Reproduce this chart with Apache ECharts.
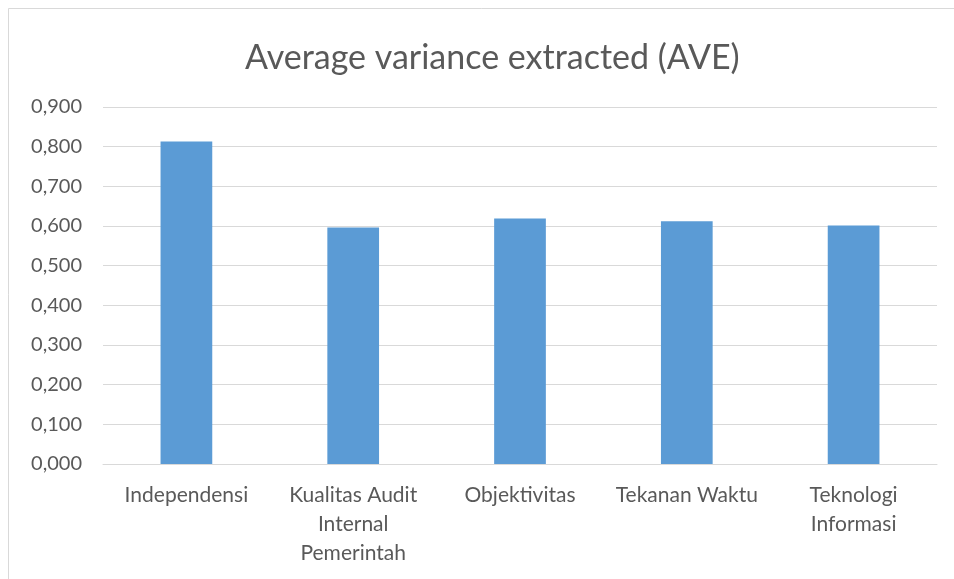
<!DOCTYPE html>
<html>
<head>
<meta charset="utf-8">
<script src="https://cdn.jsdelivr.net/npm/echarts@6/dist/echarts.min.js"></script>
<style>
  html, body { margin: 0; padding: 0; background: #fff; }
  #chart { width: 954px; height: 579px; }
</style>
</head>
<body>
<div id="chart"></div>
<script>
// data
const categories = ['Independensi', 'Kualitas Audit\nInternal\nPemerintah', 'Objektivitas', 'Tekanan Waktu', 'Teknologi\nInformasi']
const aveValues = [0.813, 0.596, 0.619, 0.612, 0.601]

const chart = echarts.init(document.getElementById('chart'))
const fontFamily = 'Lato, "Open Sans", sans-serif'

const option = {
  animation: false,
  backgroundColor: '#fff',
  textStyle: { fontFamily: fontFamily },
  title: {
    text: 'Average variance extracted (AVE)',
    left: 240,
    top: 36,
    textStyle: {
      fontFamily: fontFamily,
      fontSize: 34,
      fontWeight: 'normal',
      color: '#595959'
    }
  },
  // chart frame
  graphic: [
    {
      type: 'rect',
      shape: { x: 8.5, y: 8.5, width: 960, height: 600 },
      style: { fill: 'none', stroke: '#d9d9d9', lineWidth: 1 },
      silent: true
    }
  ],
  grid: {
    left: 103,
    right: 17,
    top: 107,
    bottom: 115,
    containLabel: false
  },
  xAxis: {
    type: 'category',
    data: categories,
    axisTick: { show: false },
    axisLine: { lineStyle: { color: '#d9d9d9', width: 1 } },
    axisLabel: {
      interval: 0,
      margin: 17,
      fontSize: 21,
      lineHeight: 29,
      color: '#595959',
      fontFamily: fontFamily
    }
  },
  yAxis: {
    type: 'value',
    min: 0,
    max: 0.9,
    interval: 0.1,
    axisLine: { show: false },
    axisTick: { show: false },
    splitLine: { lineStyle: { color: '#d9d9d9', width: 1 } },
    axisLabel: {
      margin: 21,
      fontSize: 20,
      color: '#595959',
      fontFamily: fontFamily,
      formatter: v => v.toFixed(3).replace('.', ',')
    }
  },
  series: [
    {
      name: 'AVE',
      type: 'bar',
      data: aveValues,
      barWidth: '31%',
      itemStyle: { color: '#5b9bd5' }
    }
  ]
}

chart.setOption(option)
</script>
</body>
</html>
